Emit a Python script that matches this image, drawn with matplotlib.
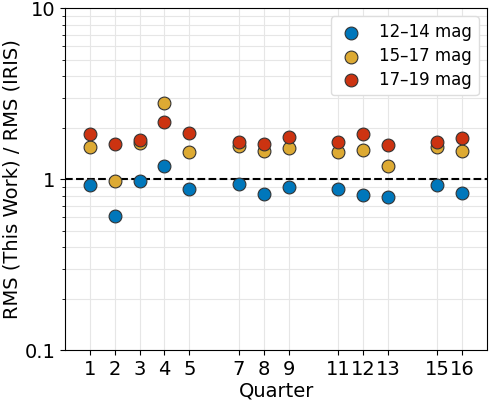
import matplotlib
matplotlib.use('Agg')
from matplotlib import pyplot as plt
import numpy as np

quarters = [1, 2, 3, 4, 5, 7, 8, 9, 11, 12, 13, 15, 16]
bright = [0.92, 0.61, 0.98, 1.20, 0.87, 0.94, 0.82, 0.90, 0.88, 0.81, 0.79, 0.92, 0.83]
mid = [1.54, 0.97, 1.62, 2.77, 1.45, 1.56, 1.47, 1.52, 1.45, 1.48, 1.20, 1.54, 1.47]
faint = [1.83, 1.61, 1.69, 2.15, 1.87, 1.65, 1.60, 1.77, 1.64, 1.83, 1.59, 1.65, 1.73]
labels = ['12–14 mag', '15–17 mag', '17–19 mag']
colors = ['#0077BB', '#DDAA33', '#CC3311']

fig = plt.figure(figsize=(4.9, 4.03), dpi=100)
ax = fig.add_axes([0.133, 0.131, 0.861, 0.849])

for vals, lab, col in zip([bright, mid, faint], labels, colors):
    ax.scatter(quarters, vals, s=85, color=col, edgecolor='#333333',
               linewidth=0.8, label=lab, zorder=3)

ax.axhline(1, color='black', ls='--', lw=1.5, zorder=2)

ax.set_yscale('log')
ax.set_ylim(0.1, 10)
ax.set_xlim(0, 17)
ax.set_xticks(quarters)
ax.set_xticklabels([str(q) for q in quarters])
ax.set_yticks([0.1, 1, 10])
ax.set_yticklabels(['0.1', '1', '10'])
ax.tick_params(labelsize=14)
ax.grid(True, which='both', color='#e6e6e6', lw=0.8, zorder=0)
ax.set_axisbelow(True)

ax.set_xlabel('Quarter', fontsize=14, labelpad=2)
ax.set_ylabel('RMS (This Work) / RMS (IRIS)', fontsize=14, labelpad=2)

ax.legend(loc='upper right', fontsize=12, handletextpad=0.9, handlelength=1.6,
          borderpad=0.4, labelspacing=0.35, framealpha=1, edgecolor='#dddddd')

fig.savefig('out.png', dpi=100)
